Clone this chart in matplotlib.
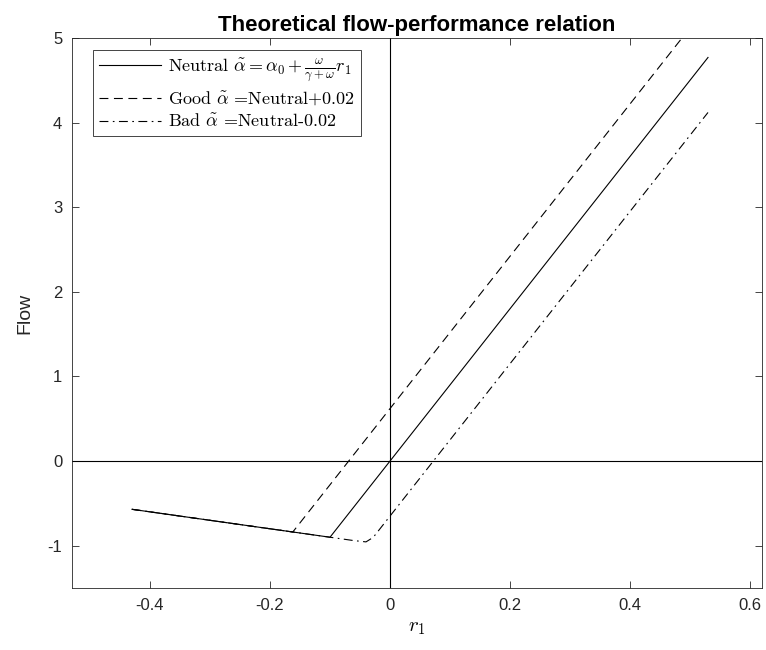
import numpy as np
import matplotlib
matplotlib.use("Agg")
import matplotlib.pyplot as plt

plt.rcParams["font.family"] = ["Liberation Sans", "DejaVu Sans"]
plt.rcParams["mathtext.fontset"] = "cm"

# Data (kink points of each piecewise line)
neutral_x = [-0.43, -0.10, 0.53]
neutral_y = [-0.57, -0.90, 4.77]
good_x = [-0.43, -0.162, 0.53]
good_y = [-0.57, -0.838, 5.39]
bad_x = [-0.43, -0.06, -0.04, -0.028, 0.53]
bad_y = [-0.57, -0.94, -0.955, -0.902, 4.12]

x_ticks = [-0.4, -0.2, 0, 0.2, 0.4, 0.6]
y_ticks = [-1, 0, 1, 2, 3, 4, 5]

labels = [
    r"Neutral $\tilde{\alpha} = \alpha_0 + \frac{\omega}{\gamma+\omega} r_1$",
    r"Good $\tilde{\alpha}$ =Neutral+0.02",
    r"Bad $\tilde{\alpha}$ =Neutral-0.02",
]

W, H = 766, 650
fig = plt.figure(figsize=(W / 100, H / 100), dpi=100)
ax = fig.add_axes([72 / W, (H - 588) / H, 690 / W, 550 / H])

ax.axhline(0, color="black", lw=0.8)
ax.axvline(0, color="black", lw=0.8)
ax.plot(neutral_x, neutral_y, color="black", lw=0.8, ls="-", label=labels[0])
ax.plot(good_x, good_y, color="black", lw=0.8, ls=(0, (8, 5)), label=labels[1])
ax.plot(bad_x, bad_y, color="black", lw=0.8, ls=(0, (8, 4, 1.5, 4)), label=labels[2])

ax.set_xlim(-0.53, 0.62)
ax.set_ylim(-1.5, 5)
ax.set_xticks(x_ticks)
ax.set_xticklabels([f"{t:g}" for t in x_ticks])
ax.set_yticks(y_ticks)
ax.set_yticklabels([str(t) for t in y_ticks])
ax.tick_params(direction="in", length=5, width=0.6, labelsize=12, pad=7,
               top=True, right=True, colors="#262626", labelcolor="#262626")
for s in ax.spines.values():
    s.set_linewidth(0.6)
    s.set_color("#262626")

ax.set_xlabel(r"$r_1$", fontsize=15, labelpad=4)
ax.set_ylabel("Flow", fontsize=14, color="#262626", labelpad=10)
ax.set_title("Theoretical flow-performance relation", fontsize=16,
             fontweight="bold", pad=5)

leg = ax.legend(loc="upper left", bbox_to_anchor=(21 / 690, 1 - 12 / 550),
                borderaxespad=0, handlelength=3.4,
                prop={"family": "cmr10", "size": 13},
                fancybox=False, framealpha=1, edgecolor="#262626",
                borderpad=0.35, labelspacing=0.3, handletextpad=0.4)
leg.get_frame().set_linewidth(0.6)

fig.savefig("out.png", dpi=100)
